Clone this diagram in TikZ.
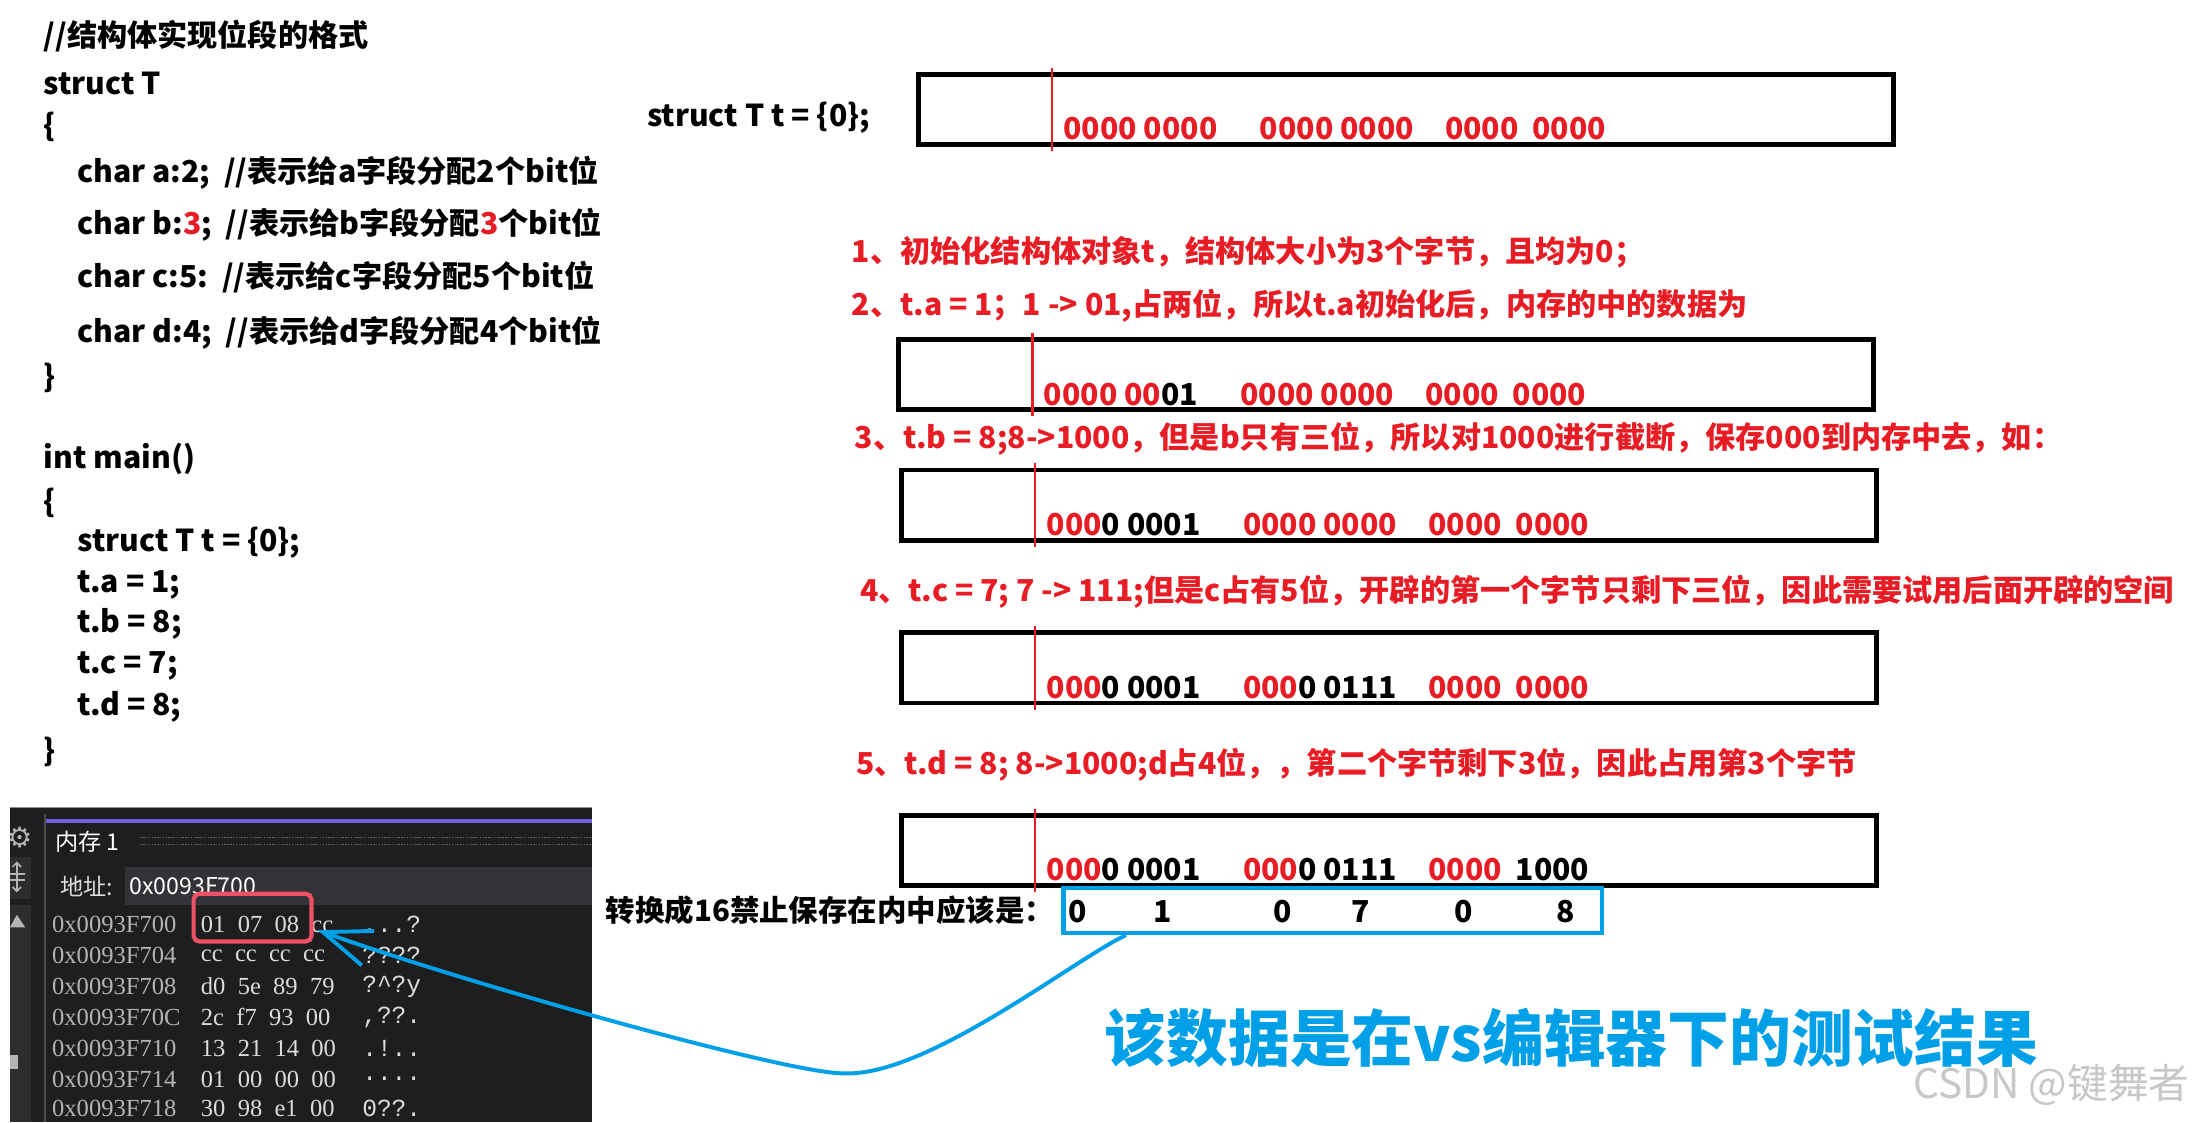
\documentclass[tikz,border=0pt]{standalone}
\usepackage{fontspec}
\setmainfont{Noto Sans CJK SC}
\newfontfamily\hexfont{Liberation Serif}
\newfontfamily\asciifont{Liberation Mono}
\newfontfamily\symfont{DejaVu Sans}
\usetikzlibrary{arrows.meta, positioning}
\definecolor{notered}{RGB}{232,28,36}
\definecolor{hexblue}{RGB}{0,160,233}
\definecolor{hlpink}{RGB}{240,80,100}
\definecolor{vsbg}{RGB}{30,30,30}
\definecolor{vsstrip}{RGB}{45,45,48}
\definecolor{vsaddr}{RGB}{51,51,55}
\definecolor{vspurple}{RGB}{113,96,232}
\definecolor{vsgray}{RGB}{180,180,180}
\definecolor{vslight}{RGB}{220,220,220}
\newcommand\codefont{\fontsize{21.5}{26}\selectfont\bfseries}

\begin{document}
\begin{tikzpicture}[
  x=1pt, y=-1pt,
  % code on the left
  codeline/.style={anchor=base west, inner sep=0pt, font=\codefont},
  % red explanations
  noteline/.style={codeline, text=notered},
  % memory boxes
  membox/.style={draw, line width=3.4pt, minimum width=695pt, minimum height=50pt, inner sep=0pt},
  bitmark/.style={draw=notered, line width=1.6pt},
  bits/.style={anchor=base west, inner sep=0pt, text=notered, font=\codefont},
  % hex result
  hexframe/.style={draw=hexblue, line width=3pt, minimum width=384pt, minimum height=32pt, inner sep=0pt},
  hexdigit/.style={inner sep=0pt, font=\codefont},
  convlabel/.style={inner sep=0pt, font=\fontsize{21}{24}\selectfont\bfseries},
  % VS memory window
  vstext/.style={anchor=west, inner sep=0pt, text=white, font=\fontsize{16.5}{18}\selectfont},
  hexaddr/.style={anchor=west, inner sep=0pt, text=vsgray, font=\hexfont\fontsize{17.5}{20}\selectfont},
  hexbytes/.style={hexaddr, text=vslight},
  hexascii/.style={anchor=west, inner sep=0pt, text=vslight, font=\asciifont\fontsize{17.5}{20}\selectfont},
  hlframe/.style={draw=hlpink, line width=3pt, rounded corners=4pt, minimum width=84pt, minimum height=34pt},
  vsarrow/.style={draw=hexblue, line width=2.8pt, -{Straight Barb[length=34pt, width=26pt]}}
]
\useasboundingbox (0,0) rectangle (1568,800);
\fill[white] (0,0) rectangle (1568,800);

% === CODE ===
\node[codeline] (c0) at (31,33) {//结构体实现位段的格式};
\node[codeline] (c1) at (31,67) {struct T};
\node[codeline] (c2) at (31,97) {\{};
\node[codeline] (c3) at (55,130) {char a:2;\ \ //表示给a字段分配2个bit位};
\node[codeline] (c4) at (55,167) {char b:\textcolor{notered}{3};\ \ //表示给b字段分配\textcolor{notered}{3}个bit位};
\node[codeline] (c5) at (55,205) {char c:5:\ \ //表示给c字段分配5个bit位};
\node[codeline] (c6) at (55,244) {char d:4;\ \ //表示给d字段分配4个bit位};
\node[codeline] (c7) at (31,276) {\}};
\node[codeline] (m0) at (31,334) {int main()};
\node[codeline] (m1) at (31,365) {\{};
\node[codeline] (m2) at (55,393) {struct T t = \{0\};};
\node[codeline] (m3) at (55,422) {t.a = 1;};
\node[codeline] (m4) at (55,451) {t.b = 8;};
\node[codeline] (m5) at (55,480) {t.c = 7;};
\node[codeline] (m6) at (55,510) {t.d = 8;};
\node[codeline] (m7) at (31,543) {\}};

% === MEMORY BOXES ===
\node[codeline] (init) at (461,90) {struct T t = \{0\};};
\node[membox] (b1) at (1002,78) {};
\node[noteline] (n1) at (607,187) {1、初始化结构体对象t，结构体大小为3个字节，且均为0；};
\node[noteline] (n2) at (607,225) {2、t.a = 1；1 -> 01,占两位，所以t.a初始化后，内存的中的数据为};
\node[membox] (b2) at (988,267) {};
\node[noteline] (n3) at (609,320) {3、t.b = 8;8->1000，但是b只有三位，所以对1000进行截断，保存000到内存中去，如：};
\node[membox] (b3) at (990,360) {};
\node[noteline] (n4) at (613,429) {4、t.c = 7; 7 -> 111;但是c占有5位，开辟的第一个字节只剩下三位，因此需要试用后面开辟的空间};
\node[membox] (b4) at (990,476) {};
\node[noteline] (n5) at (610,552) {5、t.d = 8; 8->1000;d占4位，，第二个字节剩下3位，因此占用第3个字节};
\node[membox] (b5) at (990,606) {};

% red start marks
\draw[bitmark] ([xshift=97pt,yshift=3pt]b1.north west) -- ([xshift=97pt,yshift=-3pt]b1.south west);
\draw[bitmark] ([xshift=97pt,yshift=3pt]b2.north west) -- ([xshift=97pt,yshift=-3pt]b2.south west);
\draw[bitmark] ([xshift=97pt,yshift=3pt]b3.north west) -- ([xshift=97pt,yshift=-3pt]b3.south west);
\draw[bitmark] ([xshift=97pt,yshift=3pt]b4.north west) -- ([xshift=97pt,yshift=-3pt]b4.south west);
\draw[bitmark] ([xshift=97pt,yshift=3pt]b5.north west) -- ([xshift=97pt,yshift=-3pt]b5.south west);

% bit contents
\node[bits] at ([xshift=105pt,yshift=5pt]b1.south west) {0000 0000};
\node[bits] at ([xshift=245pt,yshift=5pt]b1.south west) {0000 0000};
\node[bits] at ([xshift=377pt,yshift=5pt]b1.south west) {0000\ \ 0000};
\node[bits] at ([xshift=105pt,yshift=5pt]b2.south west) {0000 00\textcolor{black}{01}};
\node[bits] at ([xshift=245pt,yshift=5pt]b2.south west) {0000 0000};
\node[bits] at ([xshift=377pt,yshift=5pt]b2.south west) {0000\ \ 0000};
\node[bits] at ([xshift=105pt,yshift=5pt]b3.south west) {000\textcolor{black}{0 0001}};
\node[bits] at ([xshift=245pt,yshift=5pt]b3.south west) {0000 0000};
\node[bits] at ([xshift=377pt,yshift=5pt]b3.south west) {0000\ \ 0000};
\node[bits] at ([xshift=105pt,yshift=5pt]b4.south west) {000\textcolor{black}{0 0001}};
\node[bits] at ([xshift=245pt,yshift=5pt]b4.south west) {000\textcolor{black}{0 0111}};
\node[bits] at ([xshift=377pt,yshift=5pt]b4.south west) {0000\ \ 0000};
\node[bits] at ([xshift=105pt,yshift=5pt]b5.south west) {000\textcolor{black}{0 0001}};
\node[bits] at ([xshift=245pt,yshift=5pt]b5.south west) {000\textcolor{black}{0 0111}};
\node[bits] at ([xshift=377pt,yshift=5pt]b5.south west) {0000\ \ \textcolor{black}{1000}};

% === HEX RESULT ===
\node[hexframe] (hexbox) at (950,649) {};
\node[convlabel, left=5pt of hexbox] (convlbl) {转换成16禁止保存在内中应该是：};
\node[hexdigit] (h1) at (768,650) {0};
\node[hexdigit] (h2) at (829,650) {1};
\node[hexdigit] (h3) at (914,650) {0};
\node[hexdigit] (h4) at (970,650) {7};
\node[hexdigit] (h5) at (1043,650) {0};
\node[hexdigit] (h6) at (1116,650) {8};

\node[inner sep=0pt, text=hexblue, font=\fontsize{44}{48}\selectfont\bfseries] (vsnote) at (1120,740) {该数据是在vs编辑器下的测试结果};
\node[inner sep=0pt, text=black!22, font=\fontsize{29}{32}\selectfont] (mark) at (1462,773) {CSDN @键舞者};

% === VS MEMORY WINDOW ===
\fill[vsbg] (7,575) rectangle (422,800);
\draw[black!45, line width=1pt] (7,575.5) -- (422,575.5);
\fill[vsstrip] (7,611) rectangle (22,641);
\fill[vsstrip] (7,645) rectangle (22,800);
\draw[black!70, line width=1.5pt] (32,580) -- (32,800);
\draw[vspurple, line width=2.5pt] (33,585) -- (422,585);
\node[text=vsgray, font=\symfont\fontsize{20}{20}\selectfont, inner sep=0pt] (gear) at (14,597) {⚙};
\draw[vsgray, line width=1.2pt, {Straight Barb[length=3pt]}-{Straight Barb[length=3pt]}] (12,614) -- (12,636);
\draw[vsgray, line width=1.2pt] (7,623) -- (18,623) (7,627) -- (18,627);
\fill[vsgray] (7,661) -- (12,652) -- (18,661) -- cycle;
\fill[vsgray] (7,752) rectangle (13,762);

\node[vstext] (memtitle) at (39,600) {内存 1};
\draw[black!60, line width=1pt, densely dotted] (100,597) -- (422,597) (100,602) -- (422,602);
\node[vstext, text=vslight] (addrlbl) at (43,632) {地址:};
\node[fill=vsaddr, anchor=north west, minimum width=333pt, minimum height=27pt, inner sep=0pt] (addrfield) at (89,618) {};
\node[vstext] (addrval) at ([xshift=3pt]addrfield.west) {0x0093F700};

\node[hexaddr] (r1) at (37,659) {0x0093F700};
\node[hexbytes] at (143,659) {01\enskip 07\enskip 08\enskip cc};
\node[hexascii] at (258,659) {...?};
\node[hexaddr] (r2) at (37,681) {0x0093F704};
\node[hexbytes] at (143,681) {cc\enskip cc\enskip cc\enskip cc};
\node[hexascii] at (258,681) {????};
\node[hexaddr] (r3) at (37,703) {0x0093F708};
\node[hexbytes] at (143,703) {d0\enskip 5e\enskip 89\enskip 79};
\node[hexascii] at (258,703) {?\textasciicircum?y};
\node[hexaddr] (r4) at (37,725) {0x0093F70C};
\node[hexbytes] at (143,725) {2c\enskip f7\enskip 93\enskip 00};
\node[hexascii] at (258,725) {,??.};
\node[hexaddr] (r5) at (37,747) {0x0093F710};
\node[hexbytes] at (143,747) {13\enskip 21\enskip 14\enskip 00};
\node[hexascii] at (258,747) {.!..};
\node[hexaddr] (r6) at (37,769) {0x0093F714};
\node[hexbytes] at (143,769) {01\enskip 00\enskip 00\enskip 00};
\node[hexascii] at (258,769) {....};
\node[hexaddr] (r7) at (37,790) {0x0093F718};
\node[hexbytes] at (143,790) {30\enskip 98\enskip e1\enskip 00};
\node[hexascii] at (258,790) {0??.};

\node[hlframe] (hl) at (180,654) {};

% === ARROW ===
\draw[vsarrow] ([xshift=46pt]hexbox.south west) .. controls (765,684) and (660,768) .. (601,765)
  .. controls (560,765) and (330,700) .. ([xshift=3pt,yshift=-9pt]hl.east);

\end{tikzpicture}
\end{document}
